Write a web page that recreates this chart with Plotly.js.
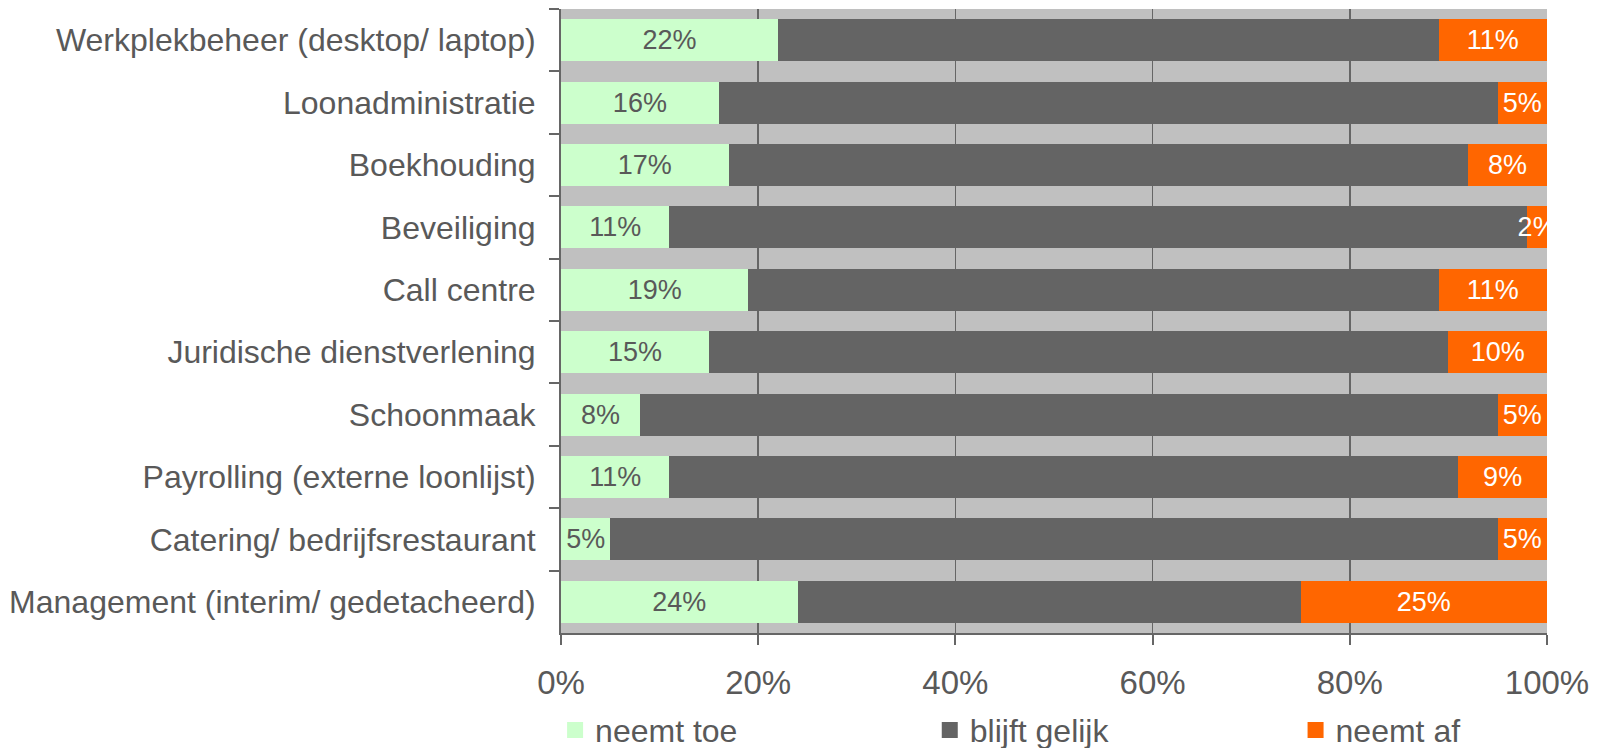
<!DOCTYPE html>
<html>
<head>
<meta charset="utf-8">
<script src="https://cdn.plot.ly/plotly-3.0.1.min.js"></script>
<style>html,body{margin:0;padding:0;background:#fff}#chart{width:1600px;height:748px}</style>
</head>
<body>
<div id="chart"></div>
<script>
const categories = [
  "Werkplekbeheer (desktop/ laptop)",
  "Loonadministratie",
  "Boekhouding",
  "Beveiliging",
  "Call centre",
  "Juridische dienstverlening",
  "Schoonmaak",
  "Payrolling (externe loonlijst)",
  "Catering/ bedrijfsrestaurant",
  "Management (interim/ gedetacheerd)"
];
const neemtToe   = [22, 16, 17, 11, 19, 15, 8, 11, 5, 24];
const blijftGelijk = [67, 79, 75, 87, 70, 75, 87, 80, 90, 51];
const neemtAf    = [11, 5, 8, 2, 11, 10, 5, 9, 5, 25];
const seriesNames = ["neemt toe", "blijft gelijk", "neemt af"];
const xTickVals = [0, 20, 40, 60, 80, 100];
const xTickText = ["0%", "20%", "40%", "60%", "80%", "100%"];

const colors = ["#CCFFCC", "#646464", "#FF6600"];
const textColors = ["#595959", "#FFFFFF", "#FFFFFF"];
const FONT = "Liberation Sans, Arial, sans-serif";
const legendIds = ["legend", "legend2", "legend3"];
const legendX = [-0.006, 0.374, 0.745];

const seriesValues = [neemtToe, blijftGelijk, neemtAf];
const traces = [];
seriesValues.forEach((vals, i) => {
  traces.push({
    type: "bar",
    orientation: "h",
    y: categories,
    x: vals,
    name: seriesNames[i],
    marker: {color: colors[i], line: {width: 0}},
    text: i === 1 ? vals.map(() => "") : vals.map(v => v + "%"),
    textposition: i === 1 ? "none" : "inside",
    insidetextanchor: "middle",
    textangle: 0,
    constraintext: "none",
    textfont: {family: FONT, size: 27, color: textColors[i]},
    cliponaxis: false,
    showlegend: false,
    hoverinfo: "x+y"
  });
});
// legend entries
seriesValues.forEach((vals, i) => {
  traces.push({
    type: "scatter",
    mode: "markers",
    x: [null],
    y: [null],
    name: seriesNames[i],
    legend: legendIds[i],
    marker: {symbol: "square", size: 20, color: colors[i]},
    showlegend: true
  });
});

function legendCfg(x) {
  return {
    orientation: "h",
    x: x,
    xanchor: "left",
    y: -0.1556,
    yanchor: "middle",
    font: {family: FONT, size: 32, color: "#595959"},
    itemwidth: 30,
    bgcolor: "rgba(0,0,0,0)"
  };
}

const layout = {
  width: 1600,
  height: 748,
  margin: {l: 561, r: 53, t: 9, b: 115, pad: 0, autoexpand: false},
  paper_bgcolor: "#FFFFFF",
  plot_bgcolor: "#C0C0C0",
  barmode: "stack",
  bargap: 0.327,
  font: {family: FONT, color: "#595959"},
  xaxis: {
    range: [0, 100],
    tickvals: xTickVals,
    ticktext: xTickText,
    showgrid: true,
    gridcolor: "#666666",
    gridwidth: 1.5,
    zeroline: false,
    showline: true,
    linecolor: "#666666",
    linewidth: 2,
    ticks: "outside",
    ticklen: 10,
    tickwidth: 2,
    tickcolor: "#666666",
    tickfont: {family: FONT, size: 33, color: "#595959"},
    ticklabelstandoff: 9,
    automargin: false,
    fixedrange: true
  },
  yaxis: {
    type: "category",
    autorange: "reversed",
    showline: true,
    linecolor: "#666666",
    linewidth: 2,
    ticks: "outside",
    tickson: "boundaries",
    ticklen: 10,
    tickwidth: 2,
    tickcolor: "#666666",
    showgrid: false,
    tickfont: {family: FONT, size: 32, color: "#595959"},
    ticklabelstandoff: 17,
    automargin: false,
    fixedrange: true
  },
  showlegend: true,
  legend: legendCfg(legendX[0]),
  legend2: legendCfg(legendX[1]),
  legend3: legendCfg(legendX[2])
};

Plotly.newPlot("chart", traces, layout, {displayModeBar: false, staticPlot: true});
</script>
</body>
</html>
